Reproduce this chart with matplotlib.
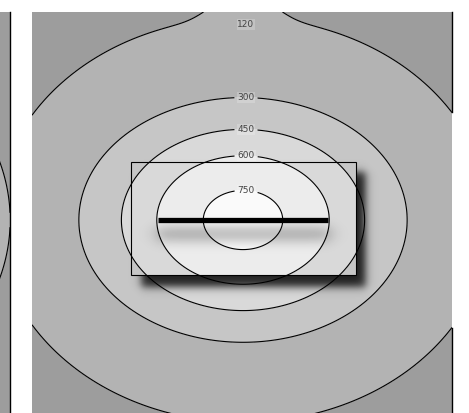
import numpy as np
import matplotlib
matplotlib.use("Agg")
import matplotlib.pyplot as plt
from matplotlib.patches import Rectangle

# ---- chart data ----
levels = [120, 300, 450, 600, 750]
fill_bounds = [0, 120, 300, 450, 600, 750, 2000]
fill_colors = ["#9d9d9d", "#b3b3b3", "#c6c6c6", "#d9d9d9", "#ececec", "#fafafa"]
label_points = [(3, 122), (3, 90), (3, 61), (3, 27)]
top_label = "120"
top_label_pos = (3, 195.5)
source_x = [-85, 85]
source_y = [0, 0]
box_x = [-112, 113]
box_y = [-55, 58]
peak_value = 780.0
core_scale = 137.0
falloff = 2.6
main_xlim = (-211, 209)
main_ylim = (-212, 208)
left_xlim = (-173.5, 246.5)


def field(X, Y):
    r0 = np.sqrt(X ** 2 + (Y / 0.745) ** 2)
    t = np.clip((r0 - 165) / 80.0, 0, 1)
    q = 0.745 + 0.075 * t
    r = np.sqrt(X ** 2 + (Y / q) ** 2) * (1 + 0.07 * t)
    f = peak_value / (1 + (r / core_scale) ** falloff)
    f += 71 * np.exp(-(X ** 2 + (Y - 190) ** 2) / (2 * 22 ** 2))
    return f


def step(t, w):
    return 0.5 * (1 + np.tanh(t / w))


W, H = 469, 413
fig = plt.figure(figsize=(W / 100, H / 100), dpi=100)
fig.patch.set_facecolor("white")

ax_h = 420 / H
ax_bottom = (H - 12 - 420) / H

# left (cut-off) panel
axl = fig.add_axes([(10 - 420) / W, ax_bottom, 420 / W, ax_h])
xl = np.linspace(left_xlim[0], left_xlim[1], 421)
yl = np.linspace(main_ylim[0], main_ylim[1], 421)
XL, YL = np.meshgrid(xl, yl)
FL = field(XL, YL)
axl.contourf(XL, YL, FL, levels=fill_bounds, colors=fill_colors)
axl.contour(XL, YL, FL, levels=levels, colors="black", linewidths=0.8)
axl.set_xlim(left_xlim)
axl.set_ylim(main_ylim)
axl.set_xticks([])
axl.set_yticks([])
for s in ["left", "top", "bottom"]:
    axl.spines[s].set_visible(False)
axl.spines["right"].set_linewidth(1.0)

# main panel
ax = fig.add_axes([32 / W, ax_bottom, 420 / W, ax_h])
x = np.linspace(main_xlim[0], main_xlim[1], 421)
y = np.linspace(main_ylim[0], main_ylim[1], 421)
X, Y = np.meshgrid(x, y)
F = field(X, Y)
ax.contourf(X, Y, F, levels=fill_bounds, colors=fill_colors, zorder=1)
cs = ax.contour(X, Y, F, levels=levels, colors="black", linewidths=0.8, zorder=3)

# shadows
ext = (main_xlim[0], main_xlim[1], main_ylim[0], main_ylim[1])
inside = (X >= box_x[0]) & (X <= box_x[1]) & (Y >= box_y[0]) & (Y <= box_y[1])
m = (step(X - (box_x[0] + 10), 5) * step((box_x[1] + 9) - X, 5)
     * step(Y - (box_y[0] - 12), 5) * step((box_y[1] - 10) - Y, 5))
alpha_box = 0.85 * m * (~inside)
ml = step(X - (source_x[0] - 2), 9) * step((source_x[1] + 2) - X, 9) * np.exp(-(Y + 14) ** 2 / (2 * 7 ** 2))
alpha = np.clip(alpha_box + 0.22 * ml, 0, 1)
rgba = np.zeros(X.shape + (4,))
rgba[..., 3] = alpha
ax.imshow(rgba, extent=ext, origin="lower", aspect="auto", zorder=2, interpolation="bilinear")

labels = cs.clabel(manual=label_points, inline=True, fmt="%d",
                   fontsize=6.5, colors="#444444", inline_spacing=3)
for t in labels:
    t.set_rotation(0)
    t.set_bbox(dict(facecolor="white", alpha=0.2, edgecolor="none", pad=0.6))
ax.text(top_label_pos[0], top_label_pos[1], top_label, fontsize=6.5, color="#444444",
        ha="center", va="center", zorder=4,
        bbox=dict(facecolor="white", alpha=0.2, edgecolor="none", pad=0.6))

ax.add_patch(Rectangle((box_x[0], box_y[0]), box_x[1] - box_x[0], box_y[1] - box_y[0],
                       fill=False, edgecolor="black", linewidth=0.8, zorder=4))
ax.plot(source_x, source_y, color="black", linewidth=3.8, solid_capstyle="butt", zorder=5)

# right edge line only along the darkest region
edge_f = F[:, -1]
edge_y = np.where(edge_f < levels[0], y, np.nan)
ax.plot(np.full_like(y, main_xlim[1] - 0.5), edge_y, color="black", linewidth=1.0, zorder=4, clip_on=False)

ax.set_xlim(main_xlim)
ax.set_ylim(main_ylim)
ax.set_xticks([])
ax.set_yticks([])
for s in ax.spines.values():
    s.set_visible(False)

fig.savefig("out.png", dpi=100, facecolor="white")
